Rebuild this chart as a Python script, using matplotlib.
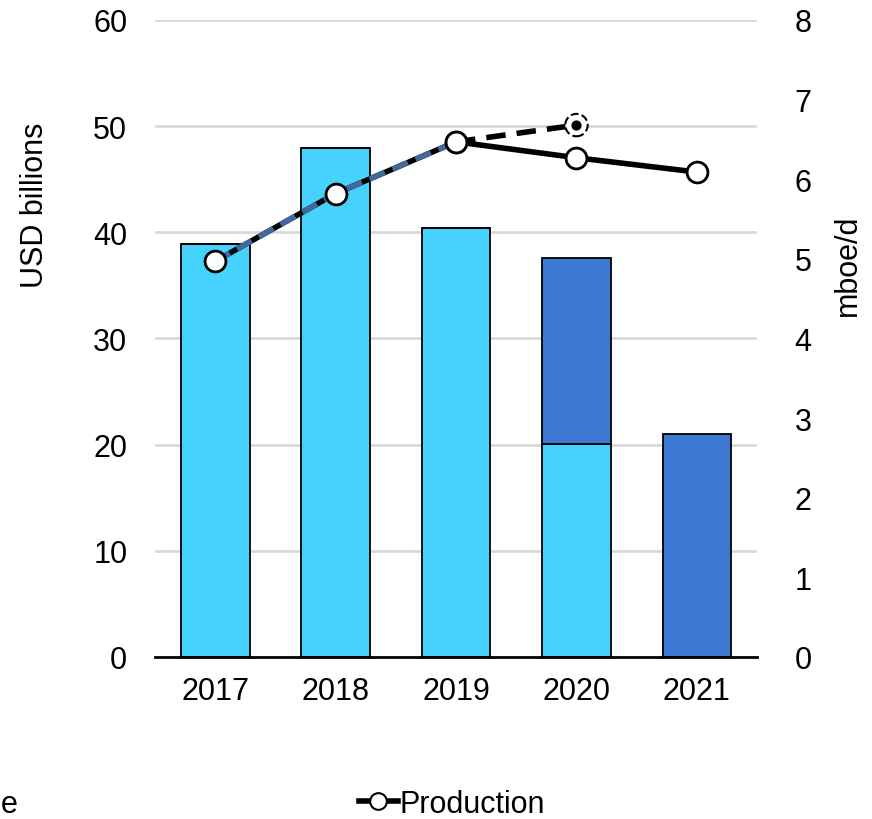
import numpy as np
import matplotlib.pyplot as plt
from matplotlib.lines import Line2D

plt.rcParams['font.family'] = ['Liberation Sans', 'DejaVu Sans']

# data
years = ['2017', '2018', '2019', '2020', '2021']
capex_light = [38.9, 47.9, 40.4, 20.1, 0.0]   # USD billions
capex_dark = [0.0, 0.0, 0.0, 17.5, 21.0]
hist_years = [0, 1, 2]
hist_prod = [4.97, 5.82, 6.47]                 # mboe/d
proj_years = [2, 3]
proj_prod = [6.47, 6.68]
actual_years = [2, 3, 4]
actual_prod = [6.47, 6.27, 6.09]

light = '#45D3FE'
dark = '#3C7AD3'
steel = '#41699B'
fs = 22

fig = plt.figure(figsize=(8.72, 8.2), dpi=100)
ax = fig.add_axes([0.1778, 0.1976, 0.6904, 0.7768])
x = np.arange(len(years))

ax.bar(x, capex_light, width=0.57, color=light, edgecolor='black', linewidth=1.3, zorder=2)
ax.bar(x, capex_dark, width=0.57, bottom=capex_light, color=dark, edgecolor='black',
       linewidth=1.3, zorder=2)

ax.set_xlim(-0.5, 4.5)
ax.set_ylim(0, 60)
ax.set_yticks(range(0, 61, 10))
ax.set_xticks(x)
ax.set_xticklabels(years)
ax.yaxis.grid(True, color='#D9D9D9', linewidth=2)
ax.set_axisbelow(True)
for s in ['left', 'right', 'top']:
    ax.spines[s].set_visible(False)
ax.spines['bottom'].set_linewidth(2)
ax.tick_params(axis='y', length=0, pad=20, labelsize=fs)
ax.tick_params(axis='x', length=0, pad=14, labelsize=fs)
ax.set_ylabel('USD billions', fontsize=fs, va='center')
ax.yaxis.set_label_coords(-0.199, 0.711)

ax2 = ax.twinx()
ax2.set_ylim(0, 8)
ax2.set_yticks(range(0, 9))
for s in ['left', 'right', 'top', 'bottom']:
    ax2.spines[s].set_visible(False)
ax2.tick_params(axis='y', length=0, pad=27, labelsize=fs)
ax2.set_ylabel('mboe/d', fontsize=fs, va='center')
ax2.yaxis.set_label_coords(1.151, 0.617)

# projection (dashed) to 2020
ax2.plot(proj_years, proj_prod, color='black', lw=4, ls=(0, (3.5, 2)), zorder=3)
ax2.scatter([proj_years[-1]], [proj_prod[-1]], s=260, facecolor='white', edgecolor='black',
            linewidths=1.5, linestyle='--', zorder=4)
ax2.scatter([proj_years[-1]], [proj_prod[-1]], s=40, color='black', zorder=5)

# history: black dashes with steel blue between
ax2.plot(hist_years, hist_prod, color='black', lw=4, zorder=3)
ax2.plot(hist_years, hist_prod, color=steel, lw=4, ls=(0, (3, 1.5)), zorder=3)

# actual production
ax2.plot(actual_years, actual_prod, color='black', lw=4, marker='o', ms=15,
         mfc='white', mec='black', mew=2, zorder=4)
ax2.plot(hist_years, hist_prod, ls='none', marker='o', ms=15,
         mfc='white', mec='black', mew=2, zorder=4)

# legend at the bottom (left entry clipped in the reference)
fig.text(1 / 872, 1 - 805 / 820, 'e', fontsize=fs, ha='left', va='center')
handle = Line2D([], [], color='black', lw=4, marker='o', ms=12, mfc='white', mec='black', mew=1.5)
fig.legend([handle], ['Production'], loc='center', bbox_to_anchor=(452 / 872, 1 - 805 / 820),
           frameon=False, fontsize=fs, handlelength=1.3, handletextpad=0.05)

fig.savefig('out.png', dpi=100)
